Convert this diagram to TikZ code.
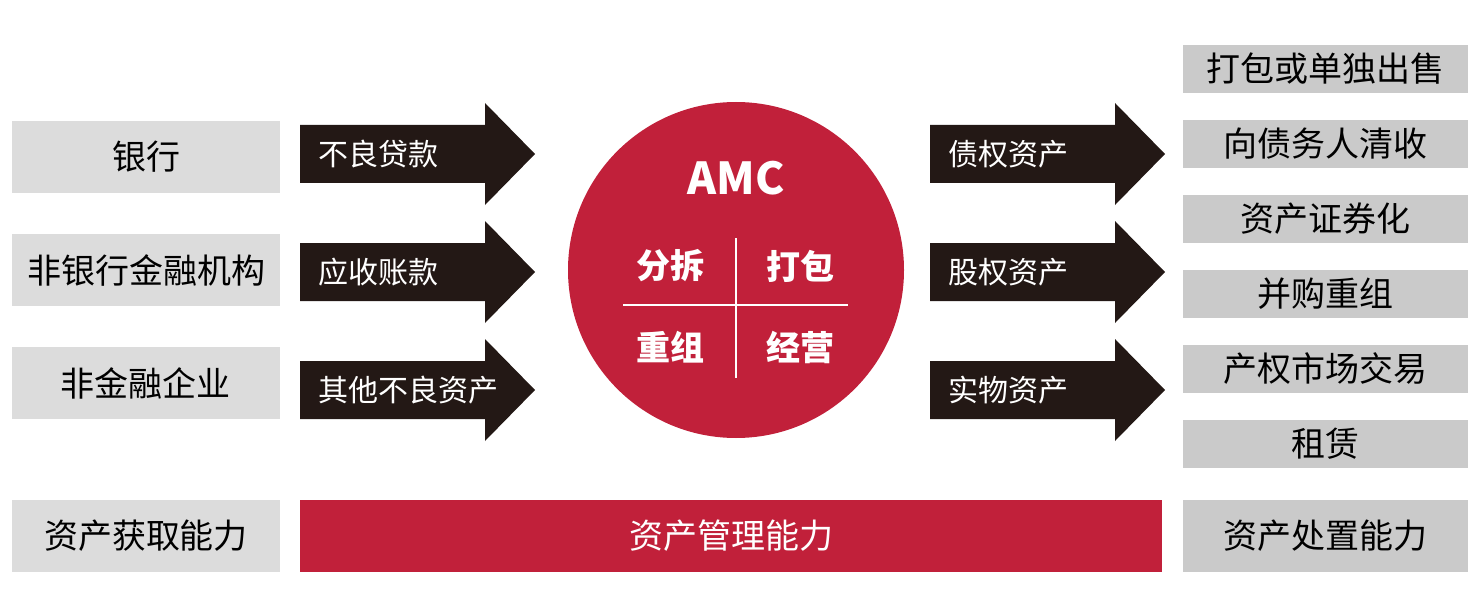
\documentclass[tikz,border=0pt]{standalone}
\usepackage{fontspec}
\setmainfont{Noto Sans CJK SC}
\usetikzlibrary{positioning}
\definecolor{amcred}{HTML}{C1203A}
\definecolor{boxgray}{HTML}{DCDCDC}
\definecolor{arrowdark}{HTML}{231815}
\tikzset{
  srcbox/.style={fill=boxgray, minimum width=134pt, minimum height=36pt, inner sep=0pt, font=\fontsize{17}{19}\selectfont},
  outbox/.style={fill=boxgray!92!black, minimum width=142.5pt, minimum height=24pt, inner sep=0pt, font=\fontsize{17}{19}\selectfont},
  arrowtext/.style={anchor=west, text=white, font=\fontsize{15}{17}\selectfont, inner sep=0pt},
  quad/.style={text=white, font=\fontsize{17}{19}\selectfont\bfseries}
}
% fat arrow: left x, centre y, name, text
\newcommand{\fatarrow}[4]{
  \fill [arrowdark] (#1,#2-29) -- (#1+185,#2-29) -- (#1+185,#2-51) -- (#1+235,#2)
    -- (#1+185,#2+51) -- (#1+185,#2+29) -- (#1,#2+29) -- cycle;
  \node [arrowtext] (#3) at (#1+18,#2) {#4};
}
\begin{document}
\begin{tikzpicture}[x=0.5pt, y=-0.5pt]
\useasboundingbox (0,0) rectangle (1484,599);
% sources
\node [srcbox] (bank) at (146,157) {银行};
\node [srcbox] (nonbank) at (146,270) {非银行金融机构};
\node [srcbox] (firm) at (146,383) {非金融企业};
\node [srcbox] (acquire) at (146,536) {资产获取能力};
% incoming arrows
\fatarrow{300}{154}{npl}{不良贷款}
\fatarrow{300}{272}{recv}{应收账款}
\fatarrow{300}{390}{other}{其他不良资产}
% AMC
\fill [amcred] (736,270) circle (168);
\node [text=white, font=\fontsize{22}{24}\selectfont\bfseries] (amc) at (736,178) {AMC};
\draw [white, line width=1.2] (623,305) -- (848,305);
\draw [white, line width=1.2] (736,238) -- (736,378);
\node [quad] (split) at (670,266) {分拆};
\node [quad] (pack) at (800,266) {打包};
\node [quad] (reorg) at (670,347) {重组};
\node [quad] (run) at (800,347) {经营};
% outgoing arrows
\fatarrow{930}{154}{debt}{债权资产}
\fatarrow{930}{272}{equity}{股权资产}
\fatarrow{930}{390}{real}{实物资产}
% disposal
\node [outbox] (sell) at (1325,69) {打包或单独出售};
\node [outbox] (collect) at (1325,144) {向债务人清收};
\node [outbox] (abs) at (1325,219) {资产证券化};
\node [outbox] (ma) at (1325,294) {并购重组};
\node [outbox] (market) at (1325,369) {产权市场交易};
\node [outbox] (lease) at (1325,444) {租赁};
\node [outbox, minimum height=36pt] (dispose) at (1325,536) {资产处置能力};
% bottom bar
\node [fill=amcred, minimum width=431pt, minimum height=36pt, inner sep=0pt, text=white,
  font=\fontsize{17}{19}\selectfont] (manage) at (731,536) {资产管理能力};
\end{tikzpicture}
\end{document}
